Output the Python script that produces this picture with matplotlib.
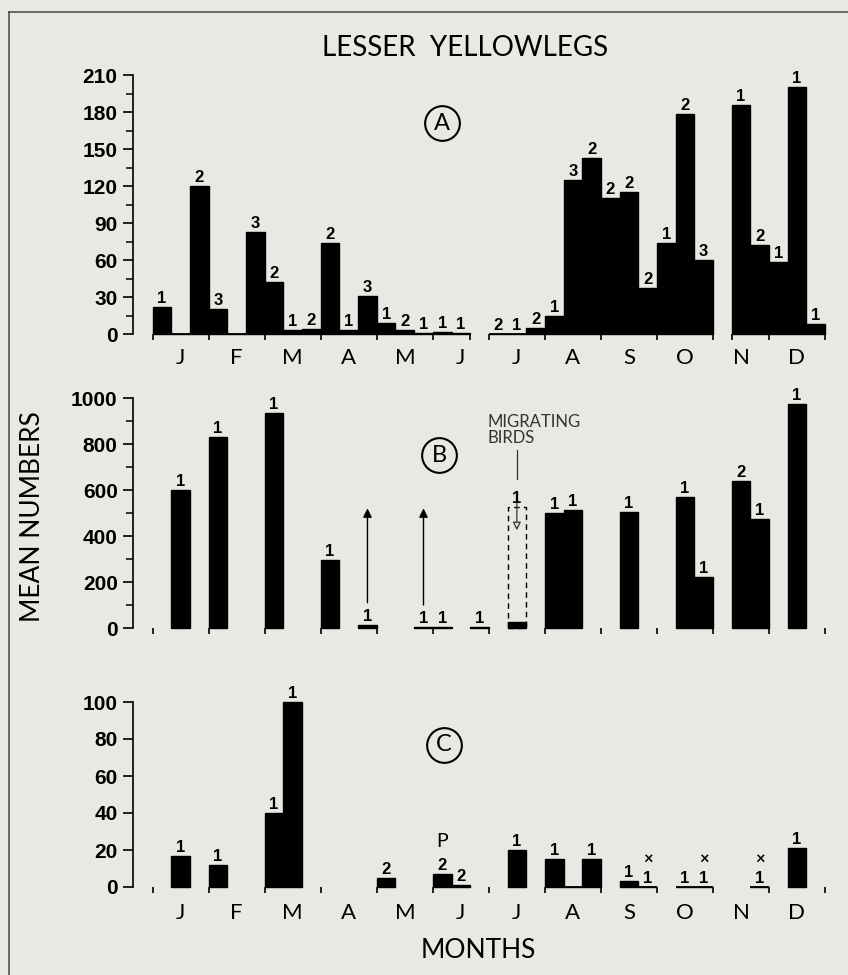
import matplotlib
matplotlib.use("Agg")
import matplotlib.pyplot as plt
from matplotlib.lines import Line2D

W, H = 848, 975
BG = "#e9e8e2"
plt.rcParams["font.family"] = ["Lato", "DejaVu Sans"]

months = list("JFMAMJJASOND")

# A: mean numbers per 10-day period (3 per month, 36 in all); None = no census
a_values = [22, 0, 120, 20, 0, 83, 42, 3, 4, 74, 3, 31, 9, 3, 1, 2, 0.5, None,
            0, 0, 5, 15, 125, 143, 110, 115, 37, 74, 178, 60, None, 186, 72, 58, 200, 8]
a_counts = [1, None, 2, 3, None, 3, 2, 1, 2, 2, 1, 3, 1, 2, 1, 1, 1, None,
            2, 1, 2, 1, 3, 2, 2, 2, 2, 1, 2, 3, None, 1, 2, 1, 1, 1]

# B
b_periods = [1, 3, 6, 9, 11, 14, 15, 17, 19, 21, 22, 25, 28, 29, 31, 32, 34]
b_values = [600, 830, 935, 295, 15, 5, 5, 3, 25, 500, 515, 505, 570, 220, 640, 475, 975]
b_counts = [1, 1, 1, 1, 1, 1, 1, 1, 1, 1, 1, 1, 1, 1, 2, 1, 1]
b_arrow_periods = [11, 14]
b_arrow_top = 520
b_migrating_period = 19
b_migrating_value = 525

# C
c_periods = [1, 3, 6, 7, 12, 15, 16, 19, 21, 22, 23, 25, 26, 28, 29, 32, 34]
c_values = [17, 12, 40, 100, 5, 7, 1, 20, 15, 0, 15, 3, 0, 0, 0, 0, 21]
c_counts = [1, 1, 1, 1, 2, 2, 2, 1, 1, None, 1, 1, 1, 1, 1, 1, 1]
c_marks = {15: "P", 26: "\u00d7", 29: "\u00d7", 32: "\u00d7"}

# horizontal layout in pixels: spine, Jan 1, width of one 10-day period
X_SPINE, X0, DX, X_RIGHT = 133, 152.7, 18.675, 840


def runs(periods):
    out = []
    for p in periods:
        if out and p == out[-1][-1] + 1:
            out[-1].append(p)
        else:
            out.append([p])
    return out


def make_axes(fig, zero_px, top_px, top_val, box_top, box_bot):
    s = (zero_px - top_px) / top_val
    ax = fig.add_axes([X_SPINE / W, 1 - box_bot / H, (X_RIGHT - X_SPINE) / W,
                       (box_bot - box_top) / H])
    ax.set_xlim(-(X0 - X_SPINE) / DX, (X_RIGHT - X0) / DX)
    ax.set_ylim(-(box_bot - zero_px) / s, (zero_px - box_top) / s)
    ax.patch.set_alpha(0)
    for sp in ["top", "right", "bottom"]:
        ax.spines[sp].set_visible(False)
    ax.spines["left"].set_bounds(0, top_val)
    ax.spines["left"].set_linewidth(1.2)
    ax.tick_params(axis="x", bottom=False, labelbottom=False)
    ax.tick_params(axis="y", which="major", length=7, width=1.2, pad=4)
    ax.tick_params(axis="y", which="minor", length=5, width=1.1)
    return ax, s


def set_yaxis(ax, step, top, minor=None):
    ticks = list(range(0, top + 1, step))
    ax.set_yticks(ticks, labels=[str(t) for t in ticks], fontsize=15,
                  fontweight="bold", fontfamily="Liberation Sans")
    if minor:
        ax.set_yticks(list(range(minor, top, step)), minor=True)


def draw_bars(ax, s, periods, values, counts, tick_at, label_tops=None):
    ax.bar([p + 0.5 for p in periods], values, width=1.0, color="black",
           edgecolor="black", linewidth=1.0, joinstyle="miter")
    for r in runs(periods):
        ax.plot([r[0], r[-1] + 1], [0, 0], color="black", lw=1.3,
                solid_capstyle="butt")
    ax.vlines(tick_at, -6 / s, 0, color="black", lw=1.2)
    for p, v, c in zip(periods, values, counts):
        if c is None:
            continue
        top = label_tops.get(p, v) if label_tops else v
        ax.annotate(str(c), (p + 0.5, top), xytext=(0, 1),
                    textcoords="offset pixels", ha="center", va="bottom",
                    fontsize=12, fontweight="bold", fontfamily="Liberation Sans")


def circled(ax, x, y, letter):
    ax.plot(x, y, "o", ms=25, mfc="none", mec="black", mew=1.5, clip_on=False)
    ax.text(x, y, letter, ha="center", va="center", fontsize=17)


def month_labels(ax, s, zero_px, label_px):
    for i, m in enumerate(months):
        ax.text(3 * i + 1.5, (zero_px - label_px) / s, m, ha="center",
                va="center", fontsize=16)


fig = plt.figure(figsize=(W / 100, H / 100), dpi=100, facecolor=BG)
bounds = list(range(0, 37, 3))

# ---- A
ax_a, s_a = make_axes(fig, 334, 75, 210, 40, 345)
set_yaxis(ax_a, 30, 210, minor=15)
a_periods = [i for i, v in enumerate(a_values) if v is not None]
a_vals = [a_values[i] for i in a_periods]
a_cnts = [a_counts[i] for i in a_periods]
a_runs = runs(a_periods)
a_ticks = sorted({b for b in bounds for r in a_runs if r[0] <= b <= r[-1] + 1}
                 | {e for r in a_runs for e in (r[0], r[-1] + 1)})
draw_bars(ax_a, s_a, a_periods, a_vals, a_cnts, a_ticks)
month_labels(ax_a, s_a, 334, 358)
circled(ax_a, 15.49, 171, "A")

# ---- B
ax_b, s_b = make_axes(fig, 628, 398, 1000, 370, 640)
set_yaxis(ax_b, 200, 1000, minor=100)
ax_b.bar(b_migrating_period + 0.5, b_migrating_value, width=1.0, fill=False,
         edgecolor="black", linestyle=(0, (4, 3)), linewidth=1.0)
draw_bars(ax_b, s_b, b_periods, b_values, b_counts, bounds,
          label_tops={b_migrating_period: b_migrating_value})
for p in b_arrow_periods:
    v = b_values[b_periods.index(p)]
    ax_b.annotate("", xy=(p + 0.5, b_arrow_top), xytext=(p + 0.5, v + 95),
                  arrowprops=dict(arrowstyle="-|>", color="black", lw=1.0,
                                  mutation_scale=13, shrinkA=0, shrinkB=0))
mx = b_migrating_period + 0.5
ax_b.text(b_migrating_period - 1.05, 790, "MIGRATING\nBIRDS", ha="left",
          va="bottom", fontsize=12, color="#333333", linespacing=1.0)
ax_b.plot([mx, mx], [775, 650], color="#333333", lw=0.9)
ax_b.annotate("", xy=(mx, 425), xytext=(mx, 545),
              arrowprops=dict(arrowstyle="-|>", color="#333333", fc=BG, lw=0.9,
                              mutation_scale=12, shrinkA=0, shrinkB=0))
circled(ax_b, 15.33, 752, "B")

# ---- C
ax_c, s_c = make_axes(fig, 887, 702, 100, 690, 898)
set_yaxis(ax_c, 20, 100)
draw_bars(ax_c, s_c, c_periods, c_values, c_counts, bounds)
for p, m in c_marks.items():
    v = c_values[c_periods.index(p)]
    off = 24 if m == "P" else 19
    ax_c.annotate(m, (p + 0.5, v), xytext=(0, off), textcoords="offset pixels",
                  ha="center", va="bottom",
                  fontsize=14 if m == "P" else 12,
                  fontweight="normal" if m == "P" else "bold")
month_labels(ax_c, s_c, 887, 913)
circled(ax_c, 15.6, 77, "C")

# titles and frame
fig.text(465 / W, 1 - 48 / H, "LESSER  YELLOWLEGS", ha="center", va="center",
         fontsize=20)
fig.text(33 / W, 1 - 517 / H, "MEAN NUMBERS", rotation=90, ha="center",
         va="center", fontsize=19)
fig.text(478.5 / W, 1 - 950 / H, "MONTHS", ha="center", va="center", fontsize=19)
fig.add_artist(Line2D([9 / W, 9 / W], [0, 1 - 12 / H], color="#444444", lw=1.1))
fig.add_artist(Line2D([9 / W, 1], [1 - 12 / H, 1 - 12 / H], color="#444444", lw=1.1))

fig.savefig("out.png", dpi=100, facecolor=BG)
